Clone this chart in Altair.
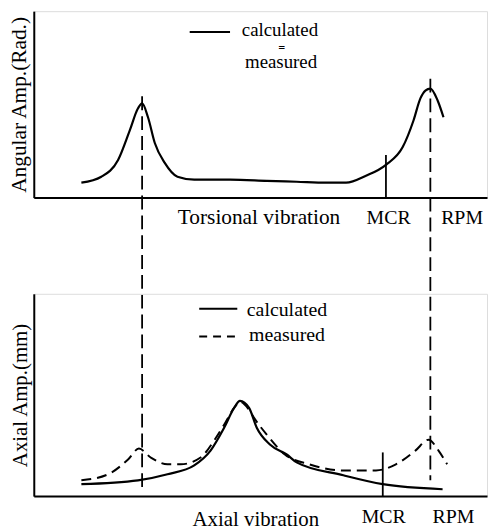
import altair as alt
import pandas as pd

FONT = "Liberation Serif"

# ---------- Top panel: torsional vibration (calculated = measured) ----------
tors_x = [10.5, 14.9, 18.6, 21.2, 23.0, 23.9, 25.2, 26.7, 28.9, 31.7, 35.4, 37.6, 43.3,
          51.4, 58.0, 64.6, 68.9, 73.3, 77.7, 81.4, 83.8, 85.3, 86.4, 87.5, 89.1, 90.4]
tors_y = [8.0, 11.2, 20.2, 36.2, 47.9, 50.5, 43.1, 29.3, 18.6, 11.2, 9.6, 9.6, 9.6,
          9.0, 8.5, 8.0, 8.0, 11.7, 17.6, 27.1, 41.5, 53.2, 57.4, 58.5, 52.1, 43.1]

# resonance markers (dashed verticals) : x, top (top-panel units), bottom (top-panel units)
peak_x = [23.9, 87.5]
peak_top = [54.3, 63.8]
peak_bottom = [-156.9, -151.6]

# MCR markers
mcr_top_x = [77.7]
mcr_top_y = [22.9]

# ---------- Bottom panel: axial vibration ----------
calc_x = [10.5, 23.0, 29.5, 35.4, 39.0, 42.0, 44.2, 45.5, 47.5, 49.2, 52.1, 55.8, 58.0,
          68.3, 77.0, 90.2]
calc_y = [5.9, 7.8, 10.8, 15.2, 22.5, 33.8, 43.6, 47.1, 43.6, 33.8, 25.5, 20.6, 16.7,
          10.3, 5.9, 3.4]

meas_x = [10.5, 16.4, 20.8, 23.2, 25.8, 29.5, 32.4, 36.8, 39.8, 42.0, 44.2, 45.5, 47.5,
          48.6, 51.4, 55.4, 60.8, 68.3, 75.5, 79.9, 84.2, 87.1, 89.3, 91.2]
meas_y = [7.8, 10.8, 18.1, 23.5, 19.1, 15.7, 15.7, 19.1, 27.5, 35.3, 43.6, 46.6, 42.6,
          38.7, 30.4, 20.6, 15.7, 12.7, 12.7, 15.7, 22.5, 27.9, 22.5, 15.7]

mcr_bot_x = [77.0]
mcr_bot_y = [21.6]

W = 457
H_TOP = 188
H_BOT = 204

xscale = alt.Scale(domain=[0, 100], nice=False, zero=False)


def xenc():
    return alt.X("x:Q", scale=xscale,
                 axis=alt.Axis(title=None, labels=False, ticks=False, grid=False,
                               domainColor="black", domainWidth=2))


def yenc(title, size):
    return alt.Y("y:Q", scale=alt.Scale(domain=[0, 100], nice=False, zero=False),
                 axis=alt.Axis(title=title, labels=False, ticks=False, grid=False,
                               domainColor="black", domainWidth=2,
                               titleFont=FONT, titleFontSize=size, titleFontWeight="normal",
                               titleColor="black", titlePadding=3))


def texts(df, title, size, align="left", fs=20):
    return alt.Chart(df).mark_text(font=FONT, fontSize=fs, color="black", align=align,
                                   baseline="middle", clip=False).encode(
        x=xenc(), y=yenc(title, size), text="t:N")


# ----- top panel -----
TT = "Angular Amp.(Rad.)"
TS = 21.5
top_curve = alt.Chart(pd.DataFrame({"x": tors_x, "y": tors_y})).mark_line(
    color="black", strokeWidth=2.2, interpolate="monotone", clip=False).encode(
    x=xenc(), y=yenc(TT, TS))

peaks = alt.Chart(pd.DataFrame({"x": peak_x, "y": peak_top, "y2": peak_bottom})).mark_rule(
    color="black", strokeWidth=1.8, strokeDash=[14, 6], clip=False).encode(
    x=xenc(), y=yenc(TT, TS), y2="y2:Q")

mcr_top = alt.Chart(pd.DataFrame({"x": mcr_top_x, "y": mcr_top_y, "y2": [0]})).mark_rule(
    color="black", strokeWidth=1.8).encode(x=xenc(), y=yenc(TT, TS), y2="y2:Q")

top_leg_line = alt.Chart(pd.DataFrame({"x": [34.4, 43.3], "y": [88.8, 88.8]})).mark_line(
    color="black", strokeWidth=2).encode(x=xenc(), y=yenc(TT, TS))

top_leg_text = texts(pd.DataFrame({"x": [45.9, 46.6], "y": [90.0, 72.6],
                                   "t": ["calculated", "measured"]}), TT, TS, fs=19)
top_approx = alt.Chart(pd.DataFrame({"x": [54.7], "y": [81.0], "t": ["="]})).mark_text(
    font="DejaVu Sans", fontSize=9, fontWeight="bold", color="black",
    baseline="middle").encode(x=xenc(), y=yenc(TT, TS), text="t:N")

top_labels = texts(pd.DataFrame({"x": [49.7], "y": [-11.0],
                                 "t": ["Torsional vibration"]}), TT, TS,
                   align="center", fs=21.5)
top_marks = texts(pd.DataFrame({"x": [78.3, 94.5], "y": [-11.0, -11.0],
                                "t": ["MCR", "RPM"]}), TT, TS, align="center")

top = alt.layer(top_curve, peaks, mcr_top, top_leg_line, top_leg_text, top_approx,
                top_labels, top_marks).properties(width=W, height=H_TOP)

# ----- bottom panel -----
BT = "Axial Amp.(mm)"
BS = 21
bot_calc = alt.Chart(pd.DataFrame({"x": calc_x, "y": calc_y})).mark_line(
    color="black", strokeWidth=2.2, interpolate="monotone").encode(
    x=xenc(), y=yenc(BT, BS))
bot_meas = alt.Chart(pd.DataFrame({"x": meas_x, "y": meas_y})).mark_line(
    color="black", strokeWidth=2, strokeDash=[10, 6], interpolate="monotone").encode(
    x=xenc(), y=yenc(BT, BS))
mcr_bot = alt.Chart(pd.DataFrame({"x": mcr_bot_x, "y": mcr_bot_y, "y2": [0]})).mark_rule(
    color="black", strokeWidth=1.8).encode(x=xenc(), y=yenc(BT, BS), y2="y2:Q")

bot_leg_solid = alt.Chart(pd.DataFrame({"x": [36.5, 44.9], "y": [92.6, 92.6]})).mark_line(
    color="black", strokeWidth=2).encode(x=xenc(), y=yenc(BT, BS))
bot_leg_dash = alt.Chart(pd.DataFrame({"x": [36.5, 44.9], "y": [78.9, 78.9]})).mark_line(
    color="black", strokeWidth=2, strokeDash=[8, 6]).encode(x=xenc(), y=yenc(BT, BS))
bot_leg_text = texts(pd.DataFrame({"x": [47.0, 47.5], "y": [92.0, 79.5],
                                   "t": ["calculated", "measured"]}), BT, BS)
bot_labels = texts(pd.DataFrame({"x": [49.0], "y": [-11.6],
                                 "t": ["Axial vibration"]}), BT, BS,
                   align="center", fs=21)
bot_marks = texts(pd.DataFrame({"x": [77.2, 92.6], "y": [-10.3, -10.3],
                                "t": ["MCR", "RPM"]}), BT, BS, align="center")

bottom = alt.layer(bot_calc, bot_meas, mcr_bot, bot_leg_solid, bot_leg_dash, bot_leg_text,
                   bot_labels, bot_marks).properties(width=W, height=H_BOT)

chart = alt.VConcatChart(vconcat=[top, bottom], spacing=97, bounds="flush").properties(
    padding={"left": 0, "top": 0, "right": 0, "bottom": 0}
).configure_view(stroke=None).configure(background="white")

chart.save("out.html", embed_options={"renderer": "svg", "actions": False})
